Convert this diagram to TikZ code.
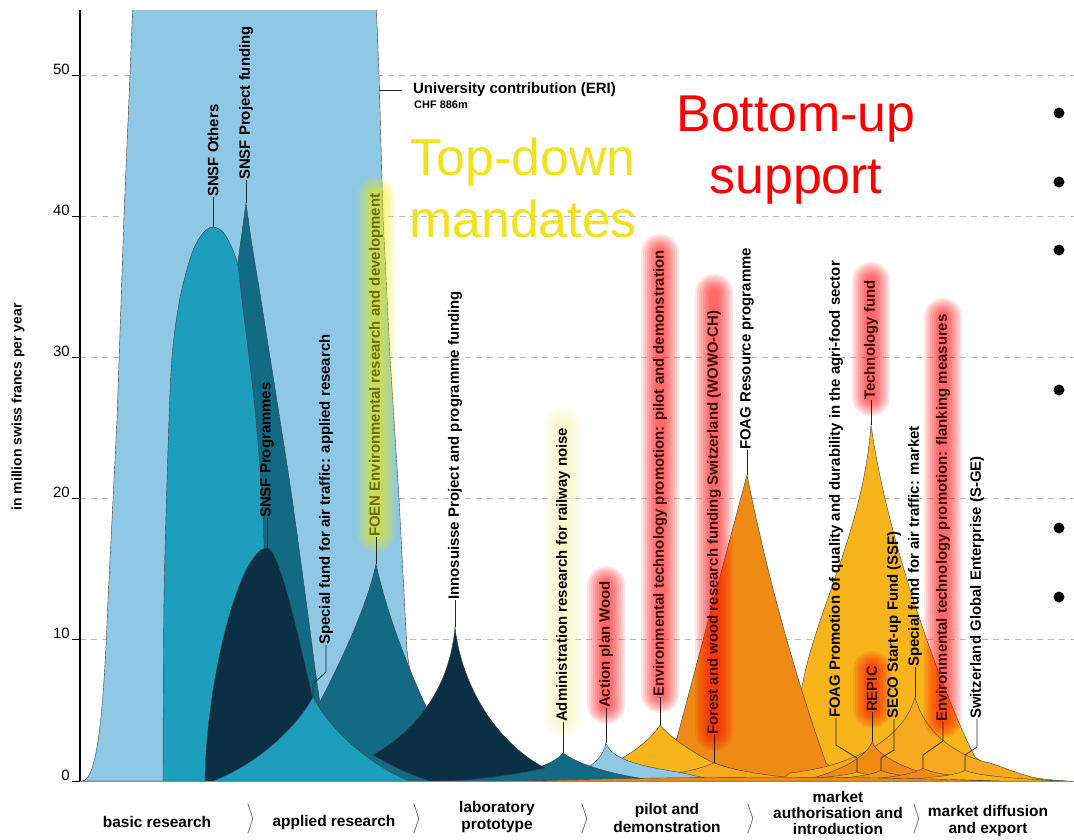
\documentclass[tikz,border=0pt]{standalone}
\usepackage{fontspec}
\setmainfont{Liberation Sans}
\definecolor{lblue}{HTML}{8EC8E4}
\definecolor{teal}{HTML}{1C9EBC}
\definecolor{mteal}{HTML}{136A85}
\definecolor{navy}{HTML}{0B2F45}
\definecolor{yel}{HTML}{F8B41B}
\definecolor{yel2}{HTML}{F6A81E}
\definecolor{orn}{HTML}{EF8A14}
\definecolor{orn2}{HTML}{F2961A}
\definecolor{tdyel}{HTML}{F2E11B}
\definecolor{olive}{HTML}{6F6C0B}
\definecolor{dred}{HTML}{3B0B0B}
\definecolor{gridc}{HTML}{BBBBBB}
\definecolor{glowy}{HTML}{F5F000}
\newcommand{\lbfont}{\fontsize{15}{18}\selectfont\bfseries}
\newcommand{\glowbar}[4]{%
  \foreach \r [evaluate=\r as \rc using 3+2*\r] in {1,...,8}{%
    \fill[#4, opacity=0.1, rounded corners=\rc bp] ({#1-\rc},{#2-2*\r}) rectangle ({#1+\rc},{#3+2*\r});
  }}
\begin{document}
\begin{tikzpicture}[x=1bp,y=-1bp,
  shp/.style={draw=black!75, line width=0.4pt},
  lab/.style={rotate=90, anchor=west, inner sep=0pt, font=\lbfont},
  lline/.style={draw=black!85, line width=0.7pt},
  gridl/.style={draw=gridc, line width=1pt, dash pattern=on 6bp off 5bp},
  tick/.style={font=\fontsize{15}{18}\selectfont, anchor=east, inner sep=0pt},
  stage/.style={font=\fontsize{15.5}{17.5}\selectfont\bfseries, align=center, inner sep=0pt},
  chev/.style={inner sep=0pt, text=black!80},
  big/.style={font=\fontsize{52}{63}\selectfont, align=center, inner sep=0pt}]
\useasboundingbox (0,0) rectangle (1074,840);
\fill[white] (0,0) rectangle (1074,840);

% grid lines
\foreach \yy in {75,216,357,498,639} \draw[gridl] (80,\yy) -- (1074,\yy);

\begin{scope}
\clip (80,10) rectangle (1074,781.5);
% University contribution
\path[shp, fill=lblue] (82,781) .. controls (98,781) and (104,705) .. (108,600) -- (117,420) -- (124,216) -- (130,75) -- (133,0) -- (376,0) -- (379,75) -- (383,216) -- (390,357) -- (399,498) -- (407,650) .. controls (415,720) and (440,770) .. (480,781) -- cycle;
% SNSF Project funding
\path[shp, fill=mteal] (226,781) -- (230,320) -- (246,203) -- plot[smooth] coordinates {(246,203) (252,245) (261,300) (270,357) (280,420) (292,498) (306,600) (318,690) (332,781)} -- cycle;
% SNSF Others
\path[shp, fill=teal] plot[smooth] coordinates {(163,781) (164,600) (168,450) (172,357) (180,298) (192,253) (203,233) (213,227) (223,232) (232,248) (238,266) (242,300) (249,357) (256,420) (263,520) (272,781)} -- cycle;
% SNSF Programmes
\path[shp, fill=navy] (205,781) .. controls (206,680) and (240,548) .. (267,548) .. controls (278,548) and (295,620) .. (313,700) -- (340,781) -- cycle;
% FOEN
\path[shp, fill=mteal] (285,781) -- (300,740) .. controls (340,665) and (366,610) .. (376,564) .. controls (386,610) and (405,660) .. (423,700) .. controls (445,745) and (480,772) .. (540,781) -- cycle;
% Special fund applied research
\path[shp, fill=teal] (213,781) .. controls (255,765) and (295,730) .. (313,697) .. controls (330,730) and (370,765) .. (409,781) -- cycle;
% Technology fund
\path[shp, fill=yel] (700,781) .. controls (740,775) and (780,755) .. (800,700) .. controls (810,620) and (862,540) .. (871,425) .. controls (890,560) and (955,720) .. (975,757) .. controls (995,772) and (1030,779) .. (1068,781) -- cycle;
% FOAG Resource programme
\path[shp, fill=orn] (520,781) .. controls (600,779) and (660,765) .. (677,738) -- (747,475) .. controls (770,590) and (800,690) .. (826,763) .. controls (835,772) and (850,779) .. (870,781) -- cycle;
% Env tech pilot
\path[shp, fill=yel] (570,781) .. controls (600,772) and (645,750) .. (660,725) .. controls (670,738) and (700,757) .. (714,763) .. controls (740,772) and (770,778) .. (800,781) -- cycle;
% WOWO
\path[shp, fill=yel2] (600,781) .. controls (650,779) and (690,773) .. (714,763) .. controls (740,773) and (790,779) .. (840,781) -- cycle;
% Action plan wood
\path[shp, fill=lblue] (555,781) .. controls (585,772) and (602,762) .. (606,743) .. controls (612,760) and (640,766) .. (683,773) .. controls (700,777) and (710,779) .. (720,781) -- cycle;
% Administration railway noise
\path[shp, fill=mteal] (440,781) .. controls (500,778) and (550,770) .. (563,753) .. controls (578,764) and (610,775) .. (660,781) -- cycle;
% Innosuisse
\path[shp, fill=navy] (373,755) .. controls (420,728) and (450,685) .. (455,627) .. controls (462,690) and (500,745) .. (545,768) .. controls (510,776) and (460,782) .. (430,781) .. controls (410,775) and (390,765) .. (373,755) -- cycle;
% market shapes
\path[shp, fill=yel2] (780,781) -- (790,773) .. controls (860,765) and (905,735) .. (915,697) .. controls (925,735) and (960,757) .. (990,763) .. controls (1010,770) and (1030,778) .. (1050,781) -- cycle;
\path[shp, fill=orn] (800,781) .. controls (830,775) and (865,760) .. (872,742) .. controls (880,760) and (920,775) .. (960,781) -- cycle;
\path[shp, fill=yel] (760,781) .. controls (800,779) and (845,777) .. (857,772) .. controls (870,777) and (920,779) .. (960,781) -- cycle;
\path[shp, fill=orn2] (800,781) .. controls (840,779) and (872,776) .. (881,770) .. controls (890,776) and (930,779) .. (980,781) -- cycle;
\path[shp, fill=orn] (840,781) .. controls (880,779) and (915,775) .. (923,768) .. controls (932,775) and (980,779) .. (1020,781) -- cycle;
\path[shp, fill=yel] (880,781) .. controls (920,779) and (958,776) .. (965,770) .. controls (975,776) and (1020,779) .. (1065,781) -- cycle;
\path[shp, fill=orn] (520,781) .. controls (700,776) and (850,776) .. (1000,781) -- cycle;
\end{scope}

% glows
\glowbar{376}{193}{537}{glowy}
\glowbar{563}{423}{722}{glowy!30}
\glowbar{606}{582}{708}{red}
\glowbar{660}{250}{697}{red}
\glowbar{714}{290}{735}{red}
\glowbar{871}{278}{400}{red}
\glowbar{872}{667}{712}{red}
\glowbar{943}{314}{722}{red}

% axes
\draw[black, line width=1.3pt] (80,10) -- (80,781.5);
\draw[black!45, line width=1.6pt] (80,781.5) -- (1074,781.5);
\foreach \yy/\lab in {75/50,216/40,357/30,498/20,639/10,781/0} {
  \draw[black, line width=0.8pt] (72,\yy) -- (80,\yy);
  \node[tick] (t\lab) at (70,\yy-6) {\lab};
}
\node[rotate=90, inner sep=0pt, font=\fontsize{14}{16}\selectfont\bfseries] (ylab) at (18,407) {in million swiss francs per year};

% peak coordinates
\coordinate (pSNSFo) at (213,227);
\coordinate (pSNSFp) at (246,203);
\coordinate (pSNSFg) at (267,548);
\coordinate (pSFA) at (313,697);
\coordinate (pFOEN) at (376,564);
\coordinate (pInno) at (455,627);
\coordinate (pAdm) at (563,753);
\coordinate (pAPW) at (606,743);
\coordinate (pETP) at (660,725);
\coordinate (pWOWO) at (714,763);
\coordinate (pFOAGr) at (747,475);
\coordinate (pFOAGp) at (857,772);
\coordinate (pREPIC) at (872,742);
\coordinate (pTF) at (871,425);
\coordinate (pSECO) at (881,770);
\coordinate (pSFM) at (915,697);
\coordinate (pETF) at (923,768);
\coordinate (pSGE) at (965,770);
\coordinate (pUni) at (379,90);

% labels
\node[lab] (lSNSFo) at (213,197) {SNSF Others};
\node[lab] (lSNSFp) at (246,180) {SNSF Project funding};
\node[lab] (lSNSFg) at (267,518) {SNSF Programmes};
\node[lab] (lSFA) at (326,645) {Special fund for air traffic: applied research};
\node[lab, text=olive] (lFOEN) at (376,537) {FOEN Environmental research and development};
\node[lab] (lInno) at (455,600) {Innosuisse Project and programme funding};
\node[lab] (lAdm) at (563,722) {Administration research for railway noise};
\node[lab, text=dred] (lAPW) at (606,708) {Action plan Wood};
\node[lab, text=dred] (lETP) at (660,697) {Environmental technology promotion: pilot and demonstration};
\node[lab, text=dred] (lWOWO) at (714,735) {Forest and wood research funding Switzerland (WOWO-CH)};
\node[lab] (lFOAGr) at (747,450) {FOAG Resource programme};
\node[lab] (lFOAGp) at (836,718) {FOAG Promotion of quality and durability in the agri-food sector};
\node[lab, text=dred] (lREPIC) at (872,712) {REPIC};
\node[lab, text=dred] (lTF) at (871,400) {Technology fund};
\node[lab] (lSECO) at (894,719) {SECO Start-up Fund (SSF)};
\node[lab] (lSFM) at (915,667) {Special fund for air traffic: market};
\node[lab, text=dred] (lETF) at (943,722) {Environmental technology promotion: flanking measures};
\node[lab] (lSGE) at (977,719) {Switzerland Global Enterprise (S-GE)};

\draw[lline] (lSNSFo.west) -- (pSNSFo);
\draw[lline] (lSNSFp.west) -- (pSNSFp);
\draw[lline] (lSNSFg.west) -- (pSNSFg);
\draw[lline] (lSFA.west) -- ++(0,27) -- (313,684) -- (pSFA);
\draw[lline] (lFOEN.west) -- (pFOEN);
\draw[lline] (lInno.west) -- (pInno);
\draw[lline] (lAdm.west) -- (pAdm);
\draw[lline] (lAPW.west) -- (pAPW);
\draw[lline] (lETP.west) -- (pETP);
\draw[lline] (lWOWO.west) -- (pWOWO);
\draw[lline] (lFOAGr.west) -- (pFOAGr);
\draw[lline] (lFOAGp.west) -- (836,745) -- (857,758) -- (pFOAGp);
\draw[lline] (lREPIC.west) -- (pREPIC);
\draw[lline] (lTF.west) -- (pTF);
\draw[lline] (lSECO.west) -- (894,750) -- (881,758) -- (pSECO);
\draw[lline] (lSFM.west) -- (pSFM);
\draw[lline] (lETF.west) -- (943,741) -- (923,755) -- (pETF);
\draw[lline] (lSGE.west) -- (977,747) -- (965,755) -- (pSGE);

% University label
\node[anchor=west, inner sep=0pt, font=\lbfont] (lUni) at (413,90) {University contribution (ERI)};
\node[anchor=west, inner sep=0pt, font=\fontsize{11}{13}\selectfont\bfseries] (lCHF) at (414,105) {CHF 886m};
\draw[lline] (pUni) -- ([xshift=-11bp]lUni.west);

% big texts
\node[big, text=tdyel] (td) at (523,188) {Top-down\\mandates};
\node[big, text=red] (bu) at (796,150) {Bottom-up\\support};

% bullets
\foreach \yy [count=\i] in {113,182,250,390,528,597} \fill[black] (1059,\yy) circle (5.5) coordinate (b\i);

% stages
\node[stage] (s1) at (157,822) {basic research};
\node[stage] (s2) at (334,822) {applied research};
\node[stage] (s3) at (497,817) {laboratory\\prototype};
\node[stage] (s4) at (667,818) {pilot and\\demonstration};
\node[stage, font=\fontsize{15.5}{16.5}\selectfont\bfseries] (s5) at (838,813) {market\\authorisation and\\introduction};
\node[stage] (s6) at (988,821) {market diffusion\\and export};
\foreach \xx [count=\i] in {250,416,584,750,916} \node[chev] (c\i) at (\xx,820) {$\left.\vrule height 13.5bp depth 13.5bp width 0pt\right\rangle$};
\end{tikzpicture}
\end{document}
